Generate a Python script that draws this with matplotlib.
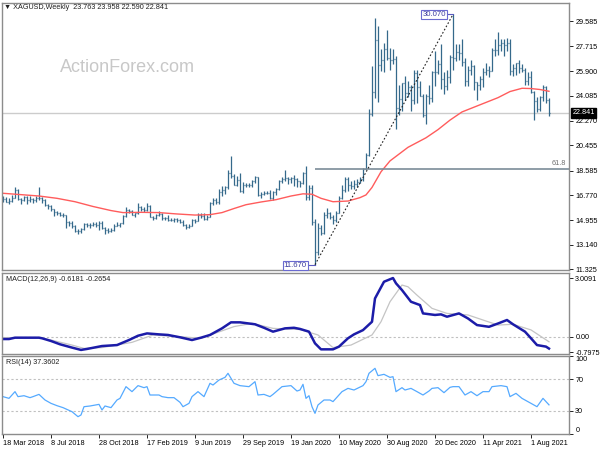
import matplotlib
matplotlib.use('Agg')
import matplotlib.pyplot as plt
import numpy as np

plt.rcParams['font.family'] = ['Liberation Sans', 'DejaVu Sans']

# weekly XAGUSD bars, 18 Mar 2018 .. 12 Sep 2021
opens = [
    16.35, 16.50, 16.30, 16.35, 16.60, 17.15, 16.50, 16.40, 16.65, 16.45,
    16.50, 16.40, 16.60, 16.60, 16.40, 16.05, 16.00, 15.75, 15.55, 15.45,
    15.35, 15.30, 14.80, 14.75, 14.55, 14.15, 14.15, 14.30, 14.65, 14.60,
    14.60, 14.65, 14.60, 14.75, 14.35, 14.20, 14.15, 14.20, 14.55, 14.60,
    14.70, 15.25, 15.70, 15.60, 15.35, 15.45, 15.90, 15.80, 15.70, 15.95,
    15.20, 15.10, 15.30, 15.40, 15.10, 15.10, 14.95, 14.95, 15.00, 14.95,
    14.80, 14.60, 14.45, 14.55, 14.95, 14.90, 15.35, 15.25, 15.00, 15.20,
    16.20, 16.45, 16.30, 17.05, 17.15, 17.35, 18.40, 18.20, 17.55, 17.90,
    17.10, 17.55, 17.55, 17.50, 17.85, 18.10, 16.80, 16.90, 16.95, 16.95,
    16.55, 17.00, 17.20, 17.85, 18.00, 18.05, 17.95, 18.05, 17.95, 17.80,
    17.65, 18.40, 16.65, 17.30, 14.80, 12.60, 14.35, 14.00, 15.35, 15.45,
    15.20, 14.95, 15.50, 16.60, 17.15, 17.95, 17.50, 17.45, 17.60, 17.75,
    17.95, 18.70, 19.75, 22.75, 24.40, 28.20, 26.35, 26.70, 27.50, 26.90,
    26.75, 26.80, 23.20, 23.85, 25.00, 24.30, 24.70, 23.80, 25.75, 24.75,
    24.10, 22.65, 24.10, 23.95, 25.85, 25.85, 26.40, 25.30, 24.80, 25.50,
    26.95, 26.90, 27.30, 27.25, 26.60, 25.20, 25.95, 26.30, 25.10, 24.90,
    25.30, 25.85, 26.00, 25.90, 27.45, 27.45, 27.80, 27.95, 27.80, 28.00,
    25.90, 26.10, 26.50, 26.10, 26.00, 25.20, 25.50, 24.40, 23.70, 23.10,
    24.00, 24.70, 23.763]
highs = [
    16.70, 16.65, 16.55, 16.80, 17.35, 17.20, 16.60, 16.75, 16.70, 16.75,
    16.60, 16.70, 17.35, 16.65, 16.50, 16.15, 16.05, 15.80, 15.60, 15.55,
    15.50, 15.35, 14.90, 14.90, 14.60, 14.30, 14.40, 14.75, 14.70, 14.75,
    14.80, 14.80, 14.85, 14.90, 14.45, 14.40, 14.35, 14.65, 14.80, 14.75,
    15.30, 15.90, 15.75, 15.70, 15.50, 16.20, 15.95, 15.90, 16.20, 16.05,
    15.25, 15.40, 15.60, 15.45, 15.20, 15.30, 15.10, 15.10, 15.10, 15.05,
    14.95, 14.65, 14.65, 15.00, 15.05, 15.45, 15.45, 15.45, 15.30, 16.30,
    16.55, 16.55, 17.25, 17.45, 17.45, 18.60, 19.65, 18.35, 18.20, 18.40,
    17.75, 17.70, 17.70, 17.90, 18.20, 18.15, 17.00, 17.10, 17.10, 17.15,
    17.10, 17.30, 17.90, 18.10, 18.60, 18.15, 18.15, 18.30, 18.05, 17.85,
    18.50, 18.95, 17.50, 17.55, 15.05, 14.70, 14.60, 15.55, 15.85, 15.55,
    15.30, 15.60, 16.70, 17.50, 18.10, 18.10, 17.85, 17.90, 17.95, 18.10,
    18.80, 19.90, 23.15, 26.25, 29.84, 29.20, 27.55, 28.00, 28.90, 27.60,
    27.55, 27.05, 24.85, 25.05, 25.55, 25.20, 24.90, 26.00, 26.00, 25.20,
    24.20, 24.20, 24.90, 25.90, 27.40, 26.75, 27.90, 25.85, 26.00, 27.10,
    30.07, 27.90, 27.90, 28.30, 26.90, 26.30, 26.70, 26.35, 25.10, 25.55,
    26.15, 26.50, 26.30, 27.60, 28.30, 28.75, 28.30, 28.30, 28.35, 28.30,
    26.40, 26.50, 26.75, 26.45, 26.10, 25.85, 25.90, 24.45, 24.00, 24.10,
    24.85, 24.80, 23.958]
lows = [
    16.25, 16.25, 16.15, 16.25, 16.55, 16.45, 16.10, 16.35, 16.10, 16.25,
    16.20, 16.30, 16.45, 16.20, 15.95, 15.75, 15.60, 15.25, 15.30, 15.25,
    15.20, 14.40, 14.50, 14.40, 14.10, 13.95, 14.00, 14.25, 14.45, 14.35,
    14.50, 14.45, 14.20, 14.30, 13.90, 14.00, 14.05, 14.15, 14.50, 14.45,
    14.65, 15.20, 15.50, 15.30, 15.20, 15.40, 15.65, 15.55, 15.65, 15.15,
    14.95, 15.00, 15.25, 14.95, 14.95, 14.90, 14.85, 14.80, 14.80, 14.70,
    14.55, 14.30, 14.35, 14.50, 14.75, 14.85, 15.10, 14.95, 14.95, 15.15,
    16.05, 16.10, 16.10, 16.75, 16.90, 17.20, 18.05, 17.50, 17.45, 17.05,
    16.95, 17.35, 17.35, 17.40, 17.70, 16.70, 16.55, 16.80, 16.90, 16.50,
    16.45, 16.80, 17.15, 17.65, 17.80, 17.60, 17.70, 17.45, 17.35, 17.40,
    17.60, 16.45, 16.45, 14.60, 11.67, 12.40, 13.85, 13.95, 15.10, 15.00,
    14.65, 14.80, 15.45, 16.50, 17.05, 17.10, 17.20, 17.25, 17.35, 17.70,
    17.85, 18.70, 19.65, 22.60, 23.90, 23.60, 25.90, 25.85, 26.70, 26.00,
    26.40, 21.68, 22.70, 23.00, 23.75, 24.00, 23.00, 23.50, 23.55, 24.10,
    22.55, 22.00, 23.50, 23.60, 24.80, 25.70, 24.60, 24.20, 24.55, 25.00,
    26.00, 26.65, 26.70, 26.30, 24.80, 24.80, 25.60, 24.55, 23.80, 24.50,
    24.70, 25.65, 25.50, 25.90, 27.00, 27.10, 27.40, 27.00, 27.40, 25.60,
    25.55, 25.65, 25.75, 25.85, 24.85, 24.90, 24.30, 22.30, 22.90, 23.00,
    23.70, 23.55, 22.590]
closes = [
    16.50, 16.30, 16.35, 16.60, 17.15, 16.50, 16.40, 16.65, 16.45, 16.50,
    16.40, 16.60, 16.60, 16.40, 16.05, 16.00, 15.75, 15.55, 15.45, 15.35,
    15.30, 14.80, 14.75, 14.55, 14.15, 14.15, 14.30, 14.65, 14.60, 14.60,
    14.65, 14.60, 14.75, 14.35, 14.20, 14.15, 14.20, 14.55, 14.60, 14.70,
    15.25, 15.70, 15.60, 15.35, 15.45, 15.90, 15.80, 15.70, 15.95, 15.20,
    15.10, 15.30, 15.40, 15.10, 15.10, 14.95, 14.95, 15.00, 14.95, 14.80,
    14.60, 14.45, 14.55, 14.95, 14.90, 15.35, 15.25, 15.00, 15.20, 16.20,
    16.45, 16.30, 17.05, 17.15, 17.35, 18.40, 18.20, 17.55, 17.90, 17.10,
    17.55, 17.55, 17.50, 17.85, 18.10, 16.80, 16.90, 16.95, 16.95, 16.55,
    17.00, 17.20, 17.85, 18.00, 18.05, 17.95, 18.05, 17.95, 17.80, 17.65,
    18.40, 16.65, 17.30, 14.80, 12.60, 14.35, 14.00, 15.35, 15.45, 15.20,
    14.95, 15.50, 16.60, 17.15, 17.95, 17.50, 17.45, 17.60, 17.75, 17.95,
    18.70, 19.75, 22.75, 24.40, 28.20, 26.35, 26.70, 27.50, 26.90, 26.75,
    26.80, 23.20, 23.85, 25.00, 24.30, 24.70, 23.80, 25.75, 24.75, 24.10,
    22.65, 24.10, 23.95, 25.85, 25.85, 26.40, 25.30, 24.80, 25.50, 26.95,
    26.90, 27.30, 27.25, 26.60, 25.20, 25.95, 26.30, 25.10, 24.90, 25.30,
    25.85, 26.00, 25.90, 27.45, 27.45, 27.80, 27.95, 27.80, 28.00, 25.90,
    26.10, 26.50, 26.10, 26.00, 25.20, 25.50, 24.40, 23.70, 23.10, 24.00,
    24.70, 23.80, 22.841]

# red moving average (bar index, value)
ma_x = [0, 6, 12, 18, 24, 30, 36, 40, 46, 52, 58, 64, 69, 73, 77, 81, 86, 91, 96, 100,
        103, 106, 110, 115, 119, 121, 123, 126, 129, 135, 141, 145, 149, 153, 157, 161,
        165, 169, 173, 176, 179, 182]
ma_y = [16.92, 16.82, 16.72, 16.55, 16.30, 15.95, 15.65, 15.50, 15.52, 15.50, 15.40,
        15.32, 15.35, 15.50, 15.80, 16.08, 16.28, 16.45, 16.72, 16.88, 16.85, 16.55,
        16.30, 16.35, 16.60, 16.80, 17.35, 18.50, 19.30, 20.30, 21.00, 21.60, 22.30,
        22.90, 23.25, 23.60, 23.95, 24.40, 24.64, 24.62, 24.55, 24.42]

# MACD(12,26,9)
macd_x = [0, 2, 4, 12, 13, 16, 19, 23, 26, 28, 33, 38, 42, 45, 48, 52, 55, 59, 63, 66,
          69, 73, 76, 79, 84, 87, 90, 94, 97, 99, 102, 104, 106, 110, 112, 115, 117, 120,
          123, 124, 127, 130, 131, 133, 136, 139, 140, 144, 146, 148, 152, 155, 158, 162,
          165, 168, 170, 174, 176, 178, 181, 182]
macd_main = [-0.13, -0.13, -0.06, -0.06, -0.09, -0.23, -0.40, -0.57, -0.69, -0.64,
             -0.49, -0.44, -0.18, 0.04, 0.16, 0.11, 0.08, -0.04, -0.18, -0.06,
             0.08, 0.42, 0.73, 0.73, 0.63, 0.45, 0.25, 0.42, 0.45, 0.39,
             0.25, -0.35, -0.66, -0.66, -0.52, -0.09, 0.11, 0.33, 0.76, 1.96,
             2.82, 3.01, 2.74, 2.39, 1.79, 1.62, 1.19, 1.11, 1.14, 1.02,
             1.19, 0.93, 0.59, 0.50, 0.67, 0.85, 0.63, 0.25, -0.09, -0.44,
             -0.52, -0.62]
sig_x = [0, 12, 16, 23, 27, 33, 43, 50, 59, 66, 77, 83, 90, 99, 105, 110, 116, 123, 126,
         129, 133, 135, 138, 143, 148, 155, 160, 165, 170, 176, 182]
sig_y = [-0.06, -0.06, -0.18, -0.44, -0.61, -0.57, -0.30, 0.08, -0.01, -0.09,
         0.51, 0.68, 0.42, 0.36, 0.08, -0.57, -0.44, 0.08, 0.76, 1.79,
         2.65, 2.56, 2.13, 1.45, 1.19, 1.11, 0.85, 0.59, 0.63, 0.34, -0.27]

# RSI(14)
rsi_x = [0, 2, 4, 5, 7, 9, 10, 12, 14, 16, 18, 20, 23, 25, 26, 27, 29, 32, 33, 34,
         36, 38, 39, 41, 43, 45, 47, 48, 49, 52, 53, 55, 57, 59, 60, 62, 63, 65, 67, 69,
         70, 72, 74, 75, 77, 79, 82, 84, 85, 87, 89, 90, 93, 96, 98, 99, 100, 101, 102, 103,
         104, 105, 107, 109, 110, 113, 115, 117, 120, 121, 122, 124, 125, 127, 129, 130, 131, 133, 134, 136,
         138, 140, 142, 143, 145, 147, 149, 150, 152, 154, 156, 158, 160, 162, 163, 166, 168, 169, 171, 173,
         176, 178, 180, 182]
rsi_y = [47.9, 45.7, 54.3, 47.9, 49.1, 46.6, 47.9, 50.8, 43.6, 39.3, 36.3, 33.8, 28.6, 22.2, 24.4, 35.0, 35.9, 38.0, 30.8, 35.9,
         33.8, 43.6, 45.7, 60.7, 54.3, 62.0, 59.4, 60.7, 50.0, 50.0, 47.9, 46.6, 46.6, 40.6, 35.0, 39.3, 47.9, 54.3, 47.9, 65.0,
         62.8, 69.2, 72.6, 77.8, 65.0, 62.0, 60.7, 67.1, 50.0, 50.8, 47.9, 50.8, 60.7, 62.0, 55.1, 56.4, 63.7, 45.7, 49.1, 35.0,
         26.5, 37.2, 43.6, 43.6, 41.5, 54.3, 58.5, 56.4, 62.0, 67.1, 77.8, 84.2, 74.8, 76.5, 72.6, 73.5, 54.3, 59.4, 56.4, 58.5,
         54.3, 50.0, 55.1, 58.5, 59.4, 53.0, 59.8, 60.7, 60.7, 50.0, 54.3, 49.1, 54.3, 54.3, 60.7, 62.0, 60.7, 47.9, 52.1, 45.7,
         39.3, 35.0, 45.7, 37.36]

price_ticks = [29.585, 27.715, 25.900, 24.085, 22.270, 20.455, 18.585, 16.770, 14.955, 13.140, 11.325]
date_pos = [0, 16, 32, 48, 64, 80, 96, 112, 128, 144, 160, 176]
date_labels = ['18 Mar 2018', '8 Jul 2018', '28 Oct 2018', '17 Feb 2019', '9 Jun 2019',
               '29 Sep 2019', '19 Jan 2020', '10 May 2020', '30 Aug 2020', '20 Dec 2020',
               '11 Apr 2021', '1 Aug 2021']
swing_low, swing_high = 11.670, 30.070
low_i, high_i = 104, 150
fib_level = swing_high - 0.618 * (swing_high - swing_low)

assert len(opens) == len(highs) == len(lows) == len(closes) == 183

BAR = '#35698b'
GRID = '#8c8c8c'
FS = 5.2

W, H = 600.0, 450.0
def box(top, bottom, left=2, right=569):
    return [left / W, 1 - bottom / H, (right - left) / W, (bottom - top) / H]

fig = plt.figure(figsize=(6, 4.5), dpi=100)
ax = fig.add_axes(box(3, 270))
ax_macd = fig.add_axes(box(273, 354))
ax_rsi = fig.add_axes(box(356, 434))

XMAX = 188.67
for a in (ax, ax_macd, ax_rsi):
    a.set_xlim(-1 / 3, XMAX)
    for s in a.spines.values():
        s.set_color(GRID)
        s.set_linewidth(1)
    a.yaxis.tick_right()
    a.tick_params(axis='y', length=3, width=0.6, labelsize=FS, pad=1.5)
    a.set_xticks([])

# ---- price panel
x = np.arange(len(closes))
ax.axhline(closes[-1], color='#cccccc', lw=1, zorder=0)
ax.vlines(x, lows, highs, color=BAR, lw=0.9)
ax.hlines(opens, x - 0.45, x, color=BAR, lw=0.9)
ax.hlines(closes, x, x + 0.45, color=BAR, lw=0.9)
ax.plot(ma_x, ma_y, color='#ff5c5c', lw=1)
ax.hlines(fib_level, low_i, XMAX, color='#7c8c98', lw=1.2)
ax.text(187.8, fib_level + 0.12, '61.8', ha='right', va='bottom', fontsize=FS, color='#707070')
ax.plot([low_i, high_i], [swing_low, swing_high], color='#222222', lw=0.8, ls=(0, (1.5, 1.8)))

lab_kw = dict(fontsize=5.6, color='#3c3ca0', va='center', ha='right',
              bbox=dict(boxstyle='square,pad=0.12', fc='white', ec='#6a6ad0', lw=0.8))
ax.text(147.6, swing_high, '%.3f' % swing_high, **lab_kw)
ax.plot([147.6, high_i], [swing_high, swing_high], color='#5a5ac0', lw=0.8)
ax.text(101.2, swing_low - 0.05, '%.3f' % swing_low, clip_on=False, **lab_kw)
ax.plot([101.2, low_i], [swing_low, swing_low], color='#5a5ac0', lw=0.8)

ax.set_ylim(11.28, 30.91)
ax.set_yticks(price_ticks)
ax.set_yticklabels(['%.3f' % v for v in price_ticks])
ax.text(1.006, closes[-1], '%.3f' % closes[-1], transform=ax.get_yaxis_transform(),
        ha='left', va='center', fontsize=FS, color='white', clip_on=False,
        bbox=dict(boxstyle='square,pad=0.2', fc='black', ec='black'))
ax.text(0.004, 0.982, '\u25bc XAGUSD,Weekly  %.3f %.3f %.3f %.3f' % (opens[-1], highs[-1], lows[-1], closes[-1]),
        transform=ax.transAxes, ha='left', va='center', fontsize=FS, color='#202020')
ax.text(0.222, 0.76, 'ActionForex.com', transform=ax.transAxes, ha='center', va='center',
        fontsize=13, color='#c8c8c8')

# ---- MACD panel
ax_macd.axhline(0, color='#c0c0c0', lw=0.8, ls=(0, (2, 2)))
ax_macd.plot(sig_x, sig_y, color='#c4c4c4', lw=0.9)
ax_macd.plot(macd_x, macd_main, color='#1c1ca8', lw=1.8)
ax_macd.set_ylim(-0.90, 3.27)
ax_macd.set_yticks([3.0091, 0.0, -0.7975])
ax_macd.set_yticklabels(['3.0091', '0.00', '-0.7975'])
ax_macd.text(0.007, 0.915, 'MACD(12,26,9) %.4f %.4f' % (macd_main[-1] + 0.0019, sig_y[-1] + 0.0046),
             transform=ax_macd.transAxes, ha='left', va='center', fontsize=FS, color='#202020')

# ---- RSI panel
for lvl in (70, 30):
    ax_rsi.axhline(lvl, color='#c0c0c0', lw=0.8, ls=(0, (2, 2)))
ax_rsi.plot(rsi_x, rsi_y, color='#55aaff', lw=0.9)
ax_rsi.set_ylim(0, 100)
ax_rsi.set_yticks([100, 70, 30, 0])
ax_rsi.set_yticklabels(['100', '70', '30', '0'])
ytl = ax_rsi.get_yticklabels()
ytl[0].set_va('top')
ytl[-1].set_va('bottom')
ax_rsi.text(0.007, 0.92, 'RSI(14) %.4f' % (rsi_y[-1] + 0.0002), transform=ax_rsi.transAxes,
            ha='left', va='center', fontsize=FS, color='#202020')
ax_rsi.set_xticks(date_pos)
ax_rsi.set_xticklabels(date_labels)
ax_rsi.tick_params(axis='x', length=3, width=0.6, labelsize=FS, pad=1.5)
for t in ax_rsi.get_xticklabels():
    t.set_ha('left')

fig.savefig('out.png', dpi=100)
